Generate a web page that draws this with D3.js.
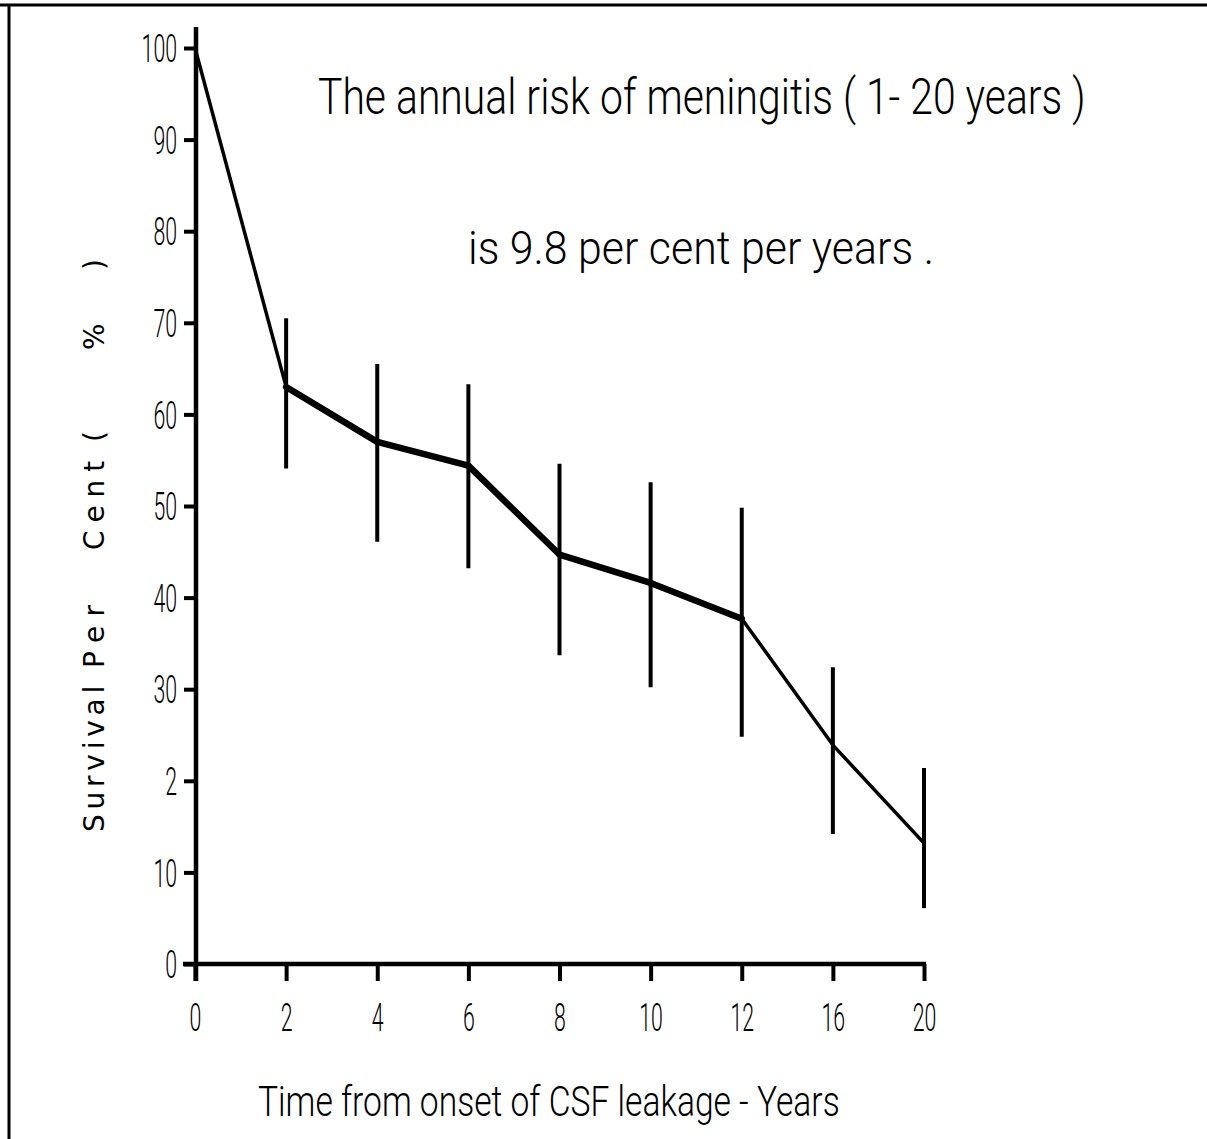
<!DOCTYPE html>
<html>
<head>
<meta charset="utf-8">
<script src="https://cdn.jsdelivr.net/npm/d3@7"></script>
<style>
  html, body { margin: 0; padding: 0; background: #fff; }
  svg { display: block; }
  text { font-family: Roboto, "DejaVu Sans", sans-serif; font-weight: 300; fill: #000; }
</style>
</head>
<body>
<script>
// ---- data ----
const categories = ["0", "2", "4", "6", "8", "10", "12", "16", "20"];
const survival   = [100, 63.0, 57.0, 54.4, 44.7, 41.6, 37.7, 23.9, 13.2];
const upperBound = [null, 70.5, 65.5, 63.3, 54.6, 52.6, 49.8, 32.4, 21.4];
const lowerBound = [null, 54.1, 46.1, 43.2, 33.7, 30.2, 24.8, 14.2, 6.1];
const yTickValues = [0, 10, 20, 30, 40, 50, 60, 70, 80, 90, 100];
const yTickLabels = ["0", "10", "2", "30", "40", "50", "60", "70", "80", "90", "100"];
const titleLine1 = "The annual risk of meningitis ( 1- 20 years )";
const titleLine2 = "is 9.8 per cent per years .";
const xTitle = "Time from onset of CSF leakage - Years";
const yTitleParts = ["Survival", "Per", "Cent", "(", "%", ")"];

// ---- styles ----
const segmentWidths = [3.5, 6.5, 6.5, 6.5, 6.5, 6.5, 3.5, 3.5];

const W = 1207, H = 1139;
const svg = d3.select("body").append("svg").attr("width", W).attr("height", H);

// frame
svg.append("line").attr("x1", 0).attr("x2", W).attr("y1", 5).attr("y2", 5)
  .attr("stroke", "#000").attr("stroke-width", 3);
svg.append("line").attr("x1", 9).attr("x2", 9).attr("y1", 5).attr("y2", H)
  .attr("stroke", "#000").attr("stroke-width", 3);

const x = d3.scalePoint().domain(categories).range([195, 924]);
const y = d3.scaleLinear().domain([0, 100]).range([964, 48]);

// y axis
const yAxis = svg.append("g").attr("transform", "translate(196,0)")
  .call(d3.axisLeft(y).tickValues(yTickValues).tickSize(12)
    .tickFormat(d => yTickLabels[yTickValues.indexOf(d)]));
yAxis.select(".domain").remove();
yAxis.selectAll(".tick line").attr("stroke", "#000").attr("stroke-width", 4);
yAxis.selectAll(".tick text")
  .attr("x", 0).attr("dy", "0.36em")
  .attr("transform", "translate(-19,0) scale(0.56,1)")
  .attr("text-anchor", "end")
  .style("font-size", "38px").style("font-family", "Roboto, sans-serif").style("font-weight", 300);
svg.append("line").attr("x1", 196).attr("x2", 196).attr("y1", 27).attr("y2", 981)
  .attr("stroke", "#000").attr("stroke-width", 4.5);

// x axis
const xAxis = svg.append("g").attr("transform", "translate(0,964)")
  .call(d3.axisBottom(x).tickSize(17));
xAxis.select(".domain").remove();
xAxis.selectAll(".tick line").attr("stroke", "#000").attr("stroke-width", 4);
xAxis.selectAll(".tick text")
  .attr("y", 0).attr("dy", 0)
  .attr("transform", "translate(0,67) scale(0.56,1)")
  .attr("text-anchor", "middle")
  .style("font-size", "38px").style("font-family", "Roboto, sans-serif").style("font-weight", 300);
svg.append("line").attr("x1", 183).attr("x2", 926).attr("y1", 964).attr("y2", 964)
  .attr("stroke", "#000").attr("stroke-width", 4.5);

// error bars
const ebData = categories.map((c, i) => ({ c, hi: upperBound[i], lo: lowerBound[i] }))
  .filter(d => d.hi != null);
svg.append("g").selectAll("line").data(ebData).join("line")
  .attr("x1", d => x(d.c)).attr("x2", d => x(d.c))
  .attr("y1", d => y(d.hi)).attr("y2", d => y(d.lo))
  .attr("stroke", "#000").attr("stroke-width", 4);

// survival line, segment by segment
const pts = categories.map((c, i) => [x(c), y(survival[i])]);
const line = d3.line();
svg.append("g").selectAll("path").data(d3.pairs(pts)).join("path")
  .attr("d", d => line(d))
  .attr("fill", "none").attr("stroke", "#000")
  .attr("stroke-width", (d, i) => segmentWidths[i])
  .attr("stroke-linecap", "round").attr("stroke-linejoin", "round");

// titles: fitted to a target width by horizontal scaling
function fittedText(str, x0, y0, width, size) {
  const t = svg.append("text").attr("x", 0).attr("y", 0)
    .style("font-size", size + "px").text(str);
  const len = t.node().getComputedTextLength();
  t.attr("transform", `translate(${x0},${y0}) scale(${width / len},1)`);
  return t;
}
fittedText(titleLine1, 318, 114, 768, 50);
fittedText(titleLine2, 468, 264, 466, 46);
fittedText(xTitle, 258, 1116, 582, 42);

// y axis title (rotated, widely spaced)
const yPartStart = [832, 668, 550, 442, 350, 270];
const yPartEnd   = [680, 595, 452, 415, 322, 245];
const yt = svg.append("text").attr("transform", "translate(104,0) rotate(-90)")
  .style("font-size", "28px").style("font-family", "\"DejaVu Sans\", sans-serif").style("font-weight", 400);
yTitleParts.forEach((p, i) => {
  const ts = yt.append("tspan").attr("x", -yPartStart[i]).attr("y", 0)
    .text(p + (i < yTitleParts.length - 1 ? " " : ""));
  if (p.length > 1) {
    ts.attr("textLength", yPartStart[i] - yPartEnd[i] + 8).attr("lengthAdjust", "spacing");
  }
});
</script>
</body>
</html>
